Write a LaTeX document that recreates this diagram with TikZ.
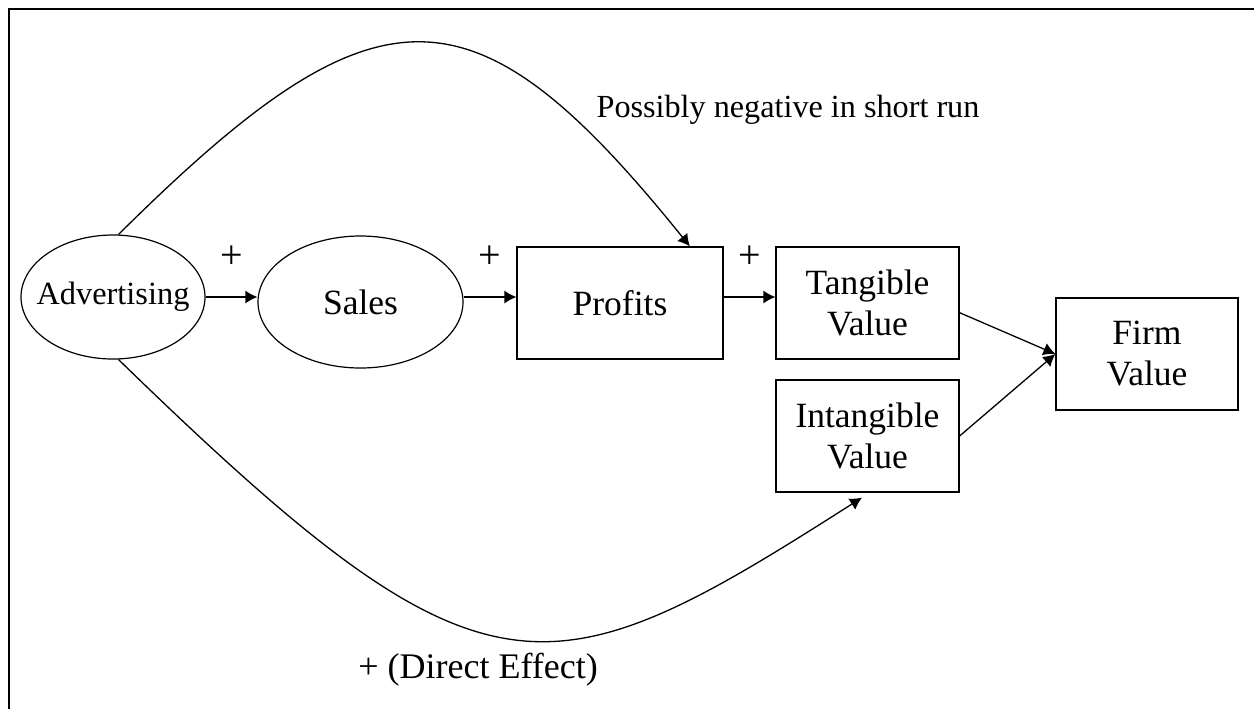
\documentclass[tikz,border=0pt]{standalone}
\usepackage{fontspec}
\setmainfont{Liberation Serif}
\usetikzlibrary{shapes.geometric,arrows.meta}

\begin{document}
\begin{tikzpicture}[x=0.5pt, y=-0.5pt,
    oval/.style={draw, ellipse, line width=0.6pt, inner sep=0pt},
    box/.style={draw, rectangle, line width=0.6pt, align=center, inner sep=0pt,
        minimum height=56pt, font=\fontsize{17.75}{20.5}\selectfont},
    arr/.style={-{Latex[length=6pt,width=6.5pt]}, line width=0.65pt},
    plussign/.style={font=\fontsize{20}{20}\selectfont}]
    \useasboundingbox (0,0) rectangle (1254,709);

    % Define the positions of the nodes
    \coordinate (advPos) at (113,297);
    \coordinate (salesPos) at (360.5,302);
    \coordinate (profPos) at (620,303);
    \coordinate (tangPos) at (867.5,303);
    \coordinate (intangPos) at (867.5,436);
    \coordinate (firmPos) at (1147,354);

    % Frame (only top and left edges fall inside the picture)
    \draw[line width=1.2pt] (1254,9) -- (9,9) -- (9,709);

    % Draw the nodes
    \node[oval, minimum width=92pt, minimum height=62pt, inner xsep=-14pt,
        font=\fontsize{16.2}{18}\selectfont] (Adv) at (advPos) {Advertising};
    \node[oval, minimum width=102.5pt, minimum height=66pt,
        font=\fontsize{17.75}{20}\selectfont] (Sales) at (salesPos) {Sales};
    \node[box, minimum width=103pt] (Profits) at (profPos) {Profits};
    \node[box, minimum width=91.5pt] (Tangible) at (tangPos) {Tangible\\Value};
    \node[box, minimum width=91.5pt] (Intangible) at (intangPos) {Intangible\\Value};
    \node[box, minimum width=91pt] (Firm) at (firmPos) {Firm\\Value};
    \coordinate (intBot) at ([xshift=-2.75pt, yshift=-2.5pt]Intangible.south);

    % Draw the arrows (all on the line of Advertising)
    \draw[arr] (Adv.east) -- (Adv.east -| Sales.west) node[midway, yshift=20pt, plussign] {+};
    \draw[arr] (Sales.east |- Adv.east) -- (Profits.west |- Adv.east) node[midway, yshift=20pt, plussign] {+};
    \draw[arr] (Profits.east |- Adv.east) -- (Tangible.west |- Adv.east) node[midway, yshift=20pt, plussign] {+};
    \draw[arr] (Tangible.-6) -- (Firm.west);
    \draw[arr] (Intangible.east) -- (Firm.west);
    \draw[arr] (Adv.85) .. controls (378,-23) and (473,-23) .. (Profits.39);
    \draw[arr] (Adv.-85) .. controls (485,716) and (545,700) .. (intBot);

    % Curve labels
    \node[font=\fontsize{16.1}{18}\selectfont] (negLbl) at (788,110) {Possibly negative in short run};
    \node[font=\fontsize{18}{20}\selectfont] (directLbl) at (478,670) {+ (Direct Effect)};
\end{tikzpicture}
\end{document}
